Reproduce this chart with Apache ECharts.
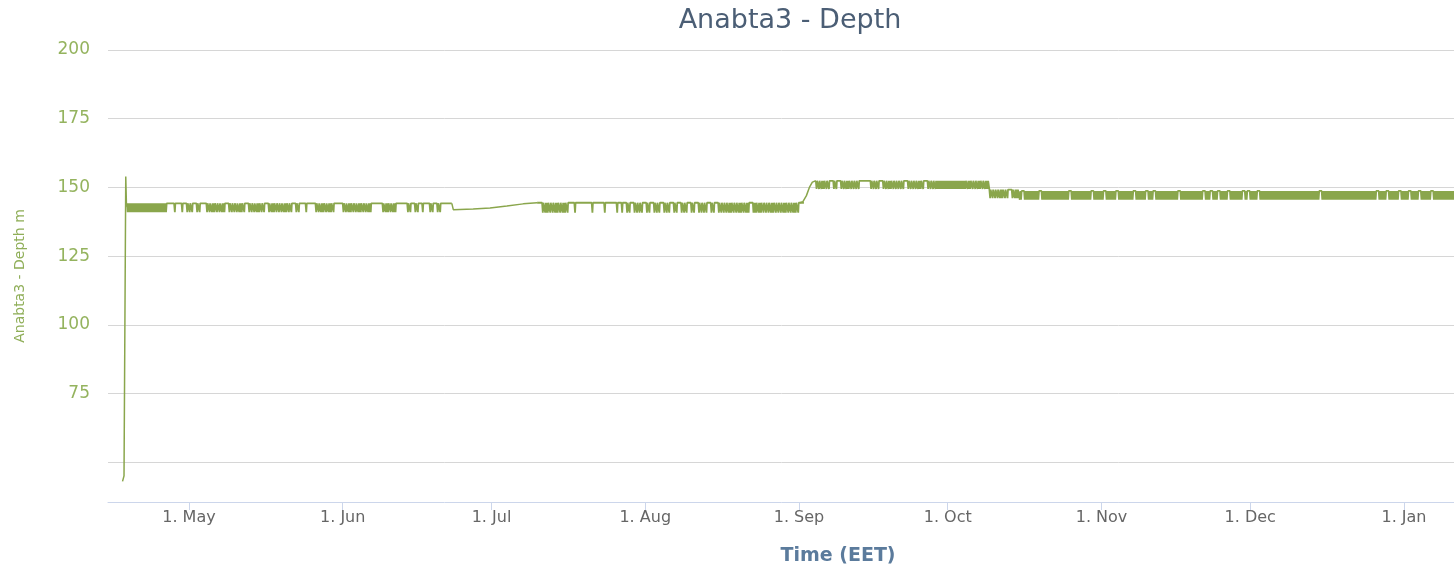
<!DOCTYPE html>
<html>
<head>
<meta charset="utf-8">
<title>Anabta3 - Depth</title>
<script src="https://cdn.jsdelivr.net/npm/echarts@6/dist/echarts.min.js"></script>
<style>
  html, body { margin: 0; padding: 0; background: #fff; }
  #chart { width: 1454px; height: 570px; }
</style>
</head>
<body>
<div id="chart"></div>
<script>
const DAY = 86400000
const HALF = DAY / 2
// fractional day of month -> timestamp (d = 1 is the 1st at 00:00)
const T = (y, m, d) => Date.UTC(y, m - 1, 1) + (d - 1) * DAY

const monthNames = ['Jan', 'Feb', 'Mar', 'Apr', 'May', 'Jun', 'Jul', 'Aug', 'Sep', 'Oct', 'Nov', 'Dec']
const monthTicks = [[2016, 5], [2016, 6], [2016, 7], [2016, 8], [2016, 9], [2016, 10], [2016, 11], [2016, 12], [2017, 1], [2017, 2]]
const yTickLabels = [75, 100, 125, 150, 175, 200]

// logger switched on: start reading, spike, then settles
const spikePoints = [
  [T(2016, 4, 17.6), 43.0], [T(2016, 4, 17.9), 45.0], [T(2016, 4, 18.1), 45.5],
  [T(2016, 4, 18.25), 154.0], [T(2016, 4, 18.4), 143.0], [T(2016, 4, 18.5), 144.2]
]
// slow recovery late june / early july
const julyRecovery = [
  [T(2016, 6, 23.0), 144.2], [T(2016, 6, 23.3), 141.9], [T(2016, 6, 27.3), 142.1],
  [T(2016, 6, 30.7), 142.5], [T(2016, 7, 4.1), 143.2], [T(2016, 7, 7.4), 144.0], [T(2016, 7, 10.2), 144.4]
]
// jump at start of september
const septRise = [
  [T(2016, 9, 1.2), 144.4], [T(2016, 9, 1.8), 144.8], [T(2016, 9, 2.5), 147.0],
  [T(2016, 9, 3.1), 150.0], [T(2016, 9, 3.7), 151.9], [T(2016, 9, 4.4), 152.4]
]

// one mark per 12h: '-' = steady, 'v' = brief dip, '#' = rapid flicker
const combA = {
  start: T(2016, 4, 18.5), level: 144.2, dip: 141.0,
  marks: '################' + '---v--' + 'v-vvv-vv' + '--' +
    'vv#vvv#v-v' + 'vvv#vv-vvv' + '#vvv-v#vvv' + 'v#vvv-vv' +
    '--v---' + 'vv#vv#vv' + '---' + 'vv#vvv#vvv#v' + '----' + 'v#vv#v' + '----' +
    'vv-vv-v--vv-vv' + '----'
}
const combC = {
  start: T(2016, 7, 10.2), level: 144.4, dip: 140.8,
  marks: '--' + 'v#vvv#vv#vv-' + '-v----' + '--v----v----v-' + 'v-vv-vvvv-vv' +
    '-vvv-vvv-vv-vvv-' + 'vv-vvvv-vv-vvv' + 'v#vvv#vv#v-#v#v' + 'vvv#vvvv#vvv#vv'
}
const combD = {
  start: T(2016, 9, 4.4), level: 152.4, dip: 149.4,
  marks: 'vv#vvv-vv-vv#vvvvv' + '----' + 'vvvv-vv#vv' + 'vvvv-vvvv#' + 'vv-vvv' +
    '############' + 'v#vvv#vv#v'
}
const combE1 = {
  start: T(2016, 10, 9.4), level: 149.2, dip: 146.1,
  marks: 'vvvv#vvv-v#v'
}
const combE2 = {
  start: T(2016, 10, 15.4), level: 148.7, dip: 145.5,
  marks: '#-######-#' + '##########' + '-########-' + '####-####-' + '######-###' +
    '#-##-#####' + '####-#####' + '####-##-##' + '-###-#####' + '-#-###-###' +
    '##########' + '##########' + '#-########' + '##########' + '####-###-#' +
    '###-###-##' + '#-####-###' + '######'
}

const expandComb = (seg) => {
  const pts = []
  for (let i = 0; i < seg.marks.length; i++) {
    const t = seg.start + i * HALF
    const c = seg.marks[i]
    if (c === '-') pts.push([t, seg.level])
    else if (c === 'v') pts.push([t, seg.level], [t + HALF * 0.3, seg.dip], [t + HALF * 0.5, seg.level])
    else {
      pts.push([t, seg.level], [t + HALF / 4, seg.dip], [t + HALF / 2, seg.level], [t + HALF * 3 / 4, seg.dip])
    }
  }
  pts.push([seg.start + seg.marks.length * HALF, seg.level])
  return pts
}

const combData = [].concat(
  expandComb(combA), [[T(2016, 6, 23.1), null]],
  expandComb(combC), [[T(2016, 9, 2), null]],
  expandComb(combD), expandComb(combE1), expandComb(combE2)
)
const lineData = [].concat(
  spikePoints, [[T(2016, 5, 1), null]],
  julyRecovery, [[T(2016, 8, 1), null]],
  septRise
)

const monthStarts = monthTicks.map(([y, m]) => Date.UTC(y, m - 1, 1))
const font = 'DejaVu Sans'
const lineColor = '#8aa64c'

const chart = echarts.init(document.getElementById('chart'))
const option = {
  animation: false,
  title: {
    text: 'Anabta3 - Depth',
    left: 785,
    textAlign: 'center',
    top: 2,
    textStyle: { fontFamily: font, fontSize: 27, fontWeight: 'normal', color: '#4b5e75' }
  },
  grid: { left: 108, top: 50, bottom: 68, width: 1460, outerBoundsMode: 'none', containLabel: false },
  xAxis: {
    type: 'value',
    min: T(2016, 4, 14.67),
    max: T(2017, 2, 3.07),
    name: 'Time (EET)',
    nameLocation: 'middle',
    nameGap: 45,
    nameTextStyle: { fontFamily: font, fontSize: 19, fontWeight: 'bold', color: '#5b7b9c' },
    axisLine: { lineStyle: { color: '#ccd6eb', width: 1 } },
    axisTick: { show: true, length: 8, lineStyle: { color: '#ccd6eb' }, customValues: monthStarts },
    axisLabel: {
      customValues: monthStarts,
      margin: 8,
      fontFamily: font,
      fontSize: 16,
      color: '#666666',
      formatter: (v) => '1. ' + monthNames[new Date(v).getUTCMonth()]
    },
    splitLine: { show: false }
  },
  yAxis: {
    type: 'value',
    min: 35.5,
    max: 200,
    minInterval: 25,
    maxInterval: 25,
    name: 'Anabta3 - Depth m',
    nameLocation: 'middle',
    nameGap: 81,
    nameTextStyle: { fontFamily: font, fontSize: 14, color: '#8fae58' },
    axisLine: { show: false },
    axisTick: { show: false },
    axisLabel: {
      margin: 18,
      fontFamily: font,
      fontSize: 17,
      color: '#94b35e',
      formatter: (v) => (yTickLabels.indexOf(v) >= 0 ? String(v) : '')
    },
    splitLine: { show: true, showMinLine: false, lineStyle: { color: '#d6d6d6', width: 1 } }
  },
  series: [
    {
      name: 'Anabta3 - Depth',
      type: 'line',
      step: 'end',
      data: combData,
      showSymbol: false,
      symbol: 'none',
      lineStyle: { color: lineColor, width: 1.8 },
      connectNulls: false
    },
    {
      name: 'Anabta3 - Depth (transitions)',
      type: 'line',
      data: lineData,
      showSymbol: false,
      symbol: 'none',
      lineStyle: { color: lineColor, width: 1.5 },
      connectNulls: false
    }
  ]
}
chart.setOption(option)
</script>
</body>
</html>
